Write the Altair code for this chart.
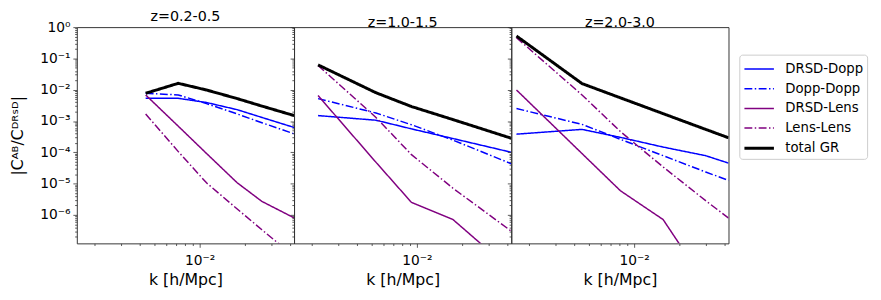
import altair as alt
import pandas as pd

SERIES = ["DRSD-Dopp", "Dopp-Dopp", "DRSD-Lens", "Lens-Lens", "total GR"]
COLORS = ["#0000ff", "#0000ff", "#800080", "#800080", "#000000"]
DASHES = [[1, 0], [8, 2.5, 1.5, 2.5], [1, 0], [8, 2.5, 1.5, 2.5], [1, 0]]
WIDTHS = [1.5, 1.5, 1.5, 1.5, 3]
TITLES = ["z=0.2-0.5", "z=1.0-1.5", "z=2.0-3.0"]

# panel z=0.2-0.5
K_Z1 = [4.36e-3, 7.2e-3, 1.11e-2, 1.78e-2, 2.6e-2, 4.27e-2]
Z1_DRSD_DOPP = [5.3e-3, 5.3e-3, 3.9e-3, 2.3e-3, 1.3e-3, 6.2e-4]
Z1_DOPP_DOPP = [7.7e-3, 6.8e-3, 3.6e-3, 1.68e-3, 8.8e-4, 3.9e-4]
Z1_DRSD_LENS = [6.8e-3, 6.8e-4, 9.2e-5, 1.06e-5, 2.7e-6, 8.0e-7]
Z1_LENS_LENS = [1.67e-3, 1.05e-4, 1.06e-5, 1.54e-6, 3.35e-7, 4.7e-8]
Z1_TOTAL_GR = [7.7e-3, 1.6e-2, 9.8e-3, 5.2e-3, 3.0e-3, 1.49e-3]

# panel z=1.0-1.5
K_Z2 = [2.19e-3, 5.33e-3, 9.2e-3, 1.74e-2, 4.27e-2]
Z2_DRSD_DOPP = [1.49e-3, 1.06e-3, 5.6e-4, 2.75e-4, 1.0e-4]
Z2_DOPP_DOPP = [5.2e-3, 1.8e-3, 7.6e-4, 2.45e-4, 4.3e-5]
Z2_DRSD_LENS = [6.5e-3, 4.8e-5, 2.5e-6, 7.1e-7, 1.7e-8]
Z2_LENS_LENS = [5.96e-2, 1.3e-3, 8.4e-5, 7.1e-6, 3.0e-7]
Z2_TOTAL_GR = [6.22e-2, 8.0e-3, 2.9e-3, 1.11e-3, 2.8e-4]

# panel z=2.0-3.0
K_Z3 = [1.64e-3, 4.49e-3, 8.1e-3, 1.56e-2, 3.0e-2, 4.27e-2]
Z3_DRSD_DOPP = [3.8e-4, 5.4e-4, 3.0e-4, 1.47e-4, 7.8e-5, 4.5e-5]
Z3_DOPP_DOPP = [2.5e-3, 7.8e-4, 2.6e-4, 7.8e-5, 2.35e-5, 1.26e-5]
Z3_DRSD_LENS = [9.8e-3, 9.1e-5, 5.9e-6, 7.1e-7, 6.5e-9, 5.6e-10]
Z3_LENS_LENS = [0.46, 6.8e-3, 4.6e-4, 3.4e-5, 2.85e-6, 7.9e-7]
Z3_TOTAL_GR = [0.52, 1.57e-2, 5.5e-3, 1.72e-3, 5.4e-4, 2.9e-4]

X_DOMAIN = [1.514e-3, 4.261e-2]
Y_DOMAIN = [1.23e-7, 1.0]
X_TICKS = [2e-3, 3e-3, 4e-3, 5e-3, 6e-3, 7e-3, 8e-3, 9e-3, 1e-2, 2e-2, 3e-2, 4e-2]
Y_TICKS = [m * 10.0 ** e for e in range(-7, 0) for m in range(1, 10)
           if m * 10.0 ** e >= Y_DOMAIN[0]] + [1.0]

PANELS = [
    (K_Z1, [Z1_DRSD_DOPP, Z1_DOPP_DOPP, Z1_DRSD_LENS, Z1_LENS_LENS, Z1_TOTAL_GR]),
    (K_Z2, [Z2_DRSD_DOPP, Z2_DOPP_DOPP, Z2_DRSD_LENS, Z2_LENS_LENS, Z2_TOTAL_GR]),
    (K_Z3, [Z3_DRSD_DOPP, Z3_DOPP_DOPP, Z3_DRSD_LENS, Z3_LENS_LENS, Z3_TOTAL_GR]),
]

AX = "#333333"
FONT = "DejaVu Sans"
W, H = 221, 220

xscale = alt.Scale(type="log", domain=X_DOMAIN, nice=False)
yscale = alt.Scale(type="log", domain=Y_DOMAIN, nice=False)

MAJOR = "abs(log(datum.value)/LN10 - round(log(datum.value)/LN10)) < 0.01"
YLAB = ("!(" + MAJOR + ") ? '' : datum.value > 0.5 ? '10⁰' : datum.value > 0.05 ? '10⁻¹' : "
        "datum.value > 0.005 ? '10⁻²' : datum.value > 0.0005 ? '10⁻³' : "
        "datum.value > 0.00005 ? '10⁻⁴' : datum.value > 0.000005 ? '10⁻⁵' : '10⁻⁶'")
XLAB = "(" + MAJOR + ") ? '10⁻²' : ''"
TICKSIZE = {"condition": {"test": MAJOR, "value": 4}, "value": 2.2}

legend = alt.Legend(title=None, orient="none", legendX=674, legendY=28,
                    symbolType="M-1,0H2", symbolSize=400)


def make_panel(i, K, vals):
    rows = []
    for s, arr in zip(SERIES, vals):
        for k, v in zip(K, arr):
            rows.append({"k": k, "value": v, "series": s})
    df = pd.DataFrame(rows)
    first = i == 0
    yaxis_kw = dict(values=Y_TICKS, labelExpr=YLAB, labels=first, grid=False,
                    titlePadding=14, tickSize=TICKSIZE, labelOverlap=False)
    yaxis_kw["title"] = "|Cᴬᴮ/Cᴰᴿˢᴰ|" if first else ""
    lines = alt.Chart(df).mark_line(clip=True).encode(
        x=alt.X("k:Q", scale=xscale,
                axis=alt.Axis(values=X_TICKS, labelExpr=XLAB, title="k [h/Mpc]",
                              grid=False, titlePadding=5, tickSize=TICKSIZE,
                              labelOverlap=False, labelPadding=6)),
        y=alt.Y("value:Q", scale=yscale, axis=alt.Axis(**yaxis_kw)),
        color=alt.Color("series:N", scale=alt.Scale(domain=SERIES, range=COLORS), legend=legend),
        strokeDash=alt.StrokeDash("series:N", scale=alt.Scale(domain=SERIES, range=DASHES), legend=legend),
        strokeWidth=alt.StrokeWidth("series:N", scale=alt.Scale(type="ordinal", domain=SERIES, range=WIDTHS), legend=legend),
    ).properties(
        width=W, height=H,
        title=alt.TitleParams(TITLES[i], fontSize=14.5, fontWeight="normal", font=FONT,
                              offset=-4, color="black", frame="group"))
    return lines


panels = [make_panel(i, K, v) for i, (K, v) in enumerate(PANELS)]

chart = alt.hconcat(*panels, spacing=0, bounds="flush").properties(
    padding={"left": 1, "top": -2, "right": 5, "bottom": 0}
).configure_view(stroke=AX, strokeWidth=1).configure_axis(
    domain=False, tickColor=AX, tickWidth=0.8, labelFont=FONT,
    labelFontSize=14, labelColor="black", labelPadding=3, titleFont=FONT,
    titleFontSize=16, titleFontWeight="normal", titleColor="black"
).configure_legend(
    labelFont=FONT, labelFontSize=13.5, labelColor="black", labelOffset=20,
    rowPadding=2, padding=3.7, strokeColor="#cccccc", fillColor="white",
    cornerRadius=3
)

chart.save("out.html", embed_options={"renderer": "svg", "actions": False})
